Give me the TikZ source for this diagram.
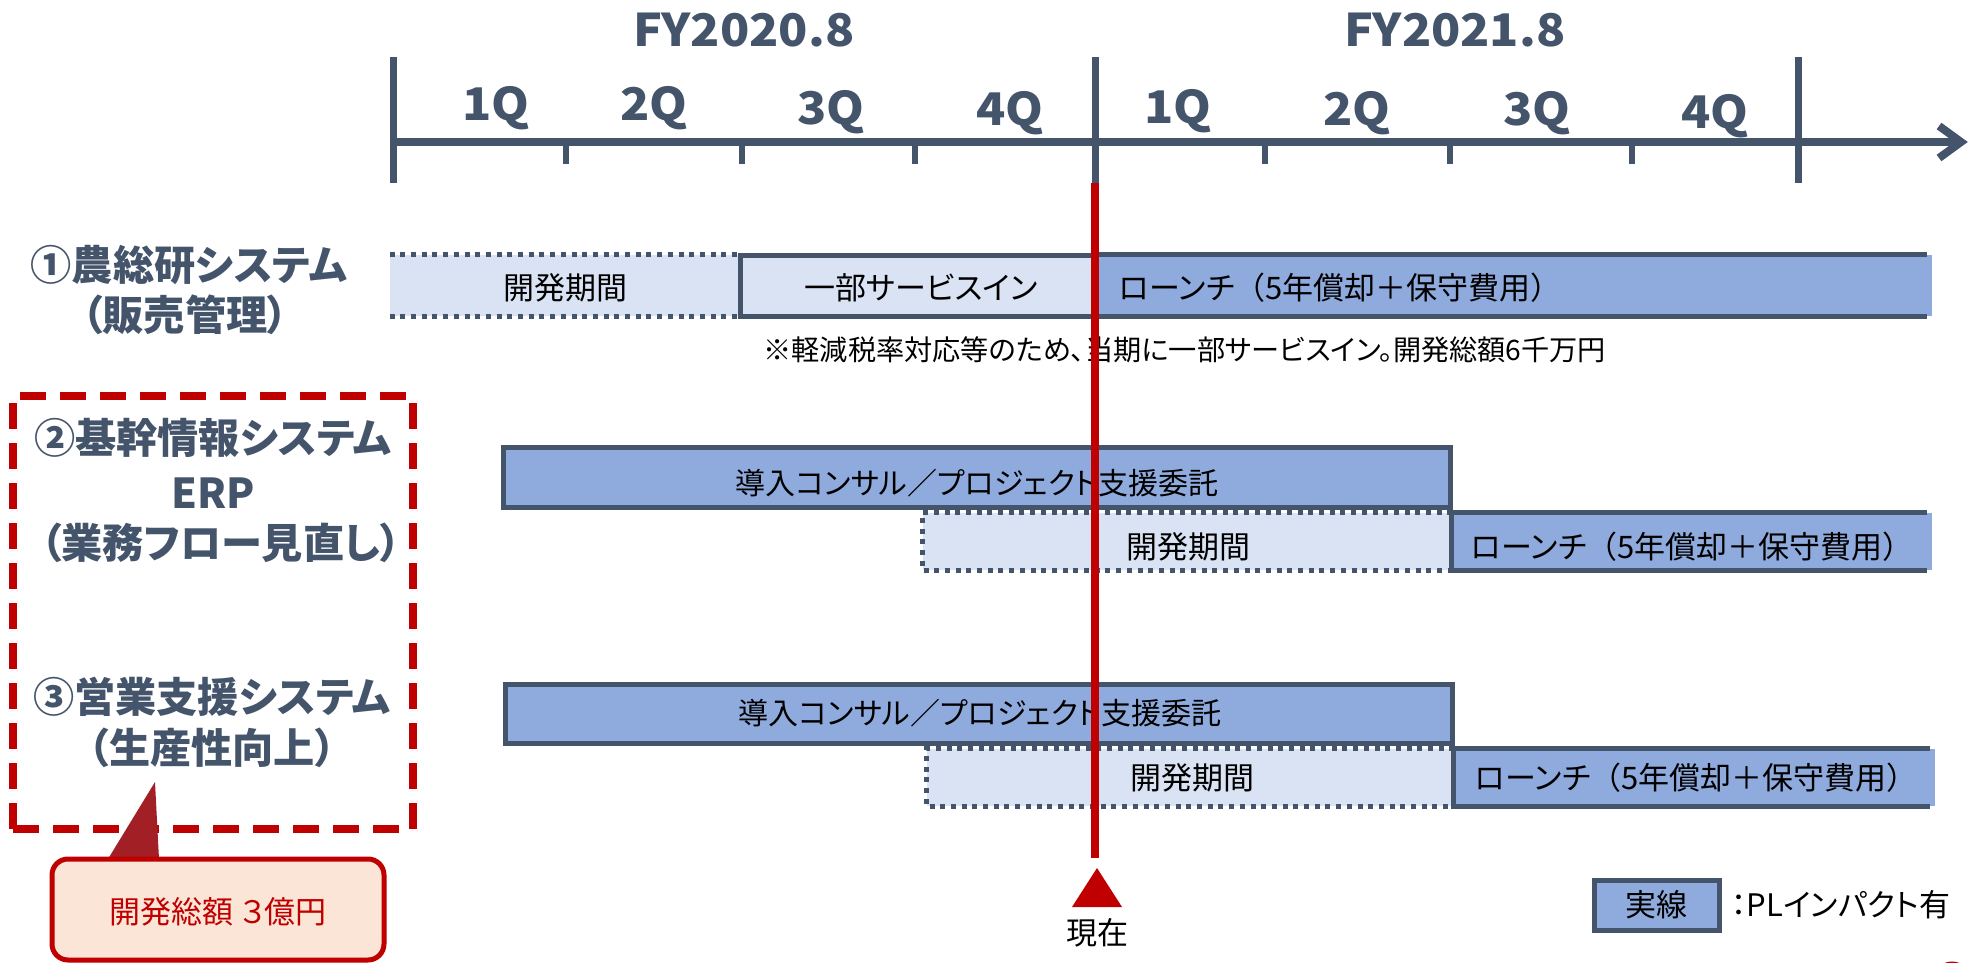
\documentclass[tikz,border=0pt]{standalone}
\usepackage{fontspec}
\setmainfont{Noto Sans CJK JP}[RawFeature=+palt]
\newfontfamily\jpfull{Noto Sans CJK JP}
\newfontfamily\axfont{Noto Sans CJK JP}[FakeStretch=1.07]
\usetikzlibrary{fit}
\definecolor{slate}{HTML}{44546A}
\definecolor{barblue}{HTML}{8FAADC}
\definecolor{barlight}{HTML}{DAE3F3}
\definecolor{nowred}{HTML}{C00000}
\definecolor{callfill}{HTML}{FBE5D6}
\definecolor{pointred}{HTML}{A31F26}
\newcommand\fwo{{\jpfull （}}
\newcommand\fwc{{\jpfull ）}}
\begin{document}
\begin{tikzpicture}[x=0.5pt,y=-0.5pt,
  axisline/.style={draw=slate, line width=4pt},
  majortick/.style={draw=slate, line width=3.5pt},
  minortick/.style={draw=slate, line width=3pt},
  axlabel/.style={text=slate, font=\axfont\bfseries\fontsize{22.5pt}{27pt}\selectfont, inner sep=0pt, anchor=base},
  rowlabel/.style={text=slate, font=\bfseries\fontsize{20.6pt}{25pt}\selectfont, inner sep=0pt},
  barsolid/.style={fill=barblue, inner sep=0pt},
  barlightbox/.style={fill=barlight, inner sep=0pt},
  boxedge/.style={draw=slate, line width=2.5pt},
  solidedge/.style={draw=slate, line width=2.5pt},
  dotedge/.style={draw=slate, line width=2.5pt, dash pattern=on 2.5pt off 2.85pt},
  bartext/.style={font=\fontsize{15.5pt}{18pt}\selectfont, inner sep=0pt, text=black},
  constext/.style={font=\fontsize{15pt}{18pt}\selectfont, inner sep=0pt, text=black},
  notetext/.style={font=\fontsize{14.1pt}{17pt}\selectfont, inner sep=0pt, text=black},
  nowline/.style={draw=nowred, line width=4pt},
  focusbox/.style={draw=nowred, line width=4pt, dash pattern=on 13pt off 7pt, inner sep=0pt},
  calloutbox/.style={fill=callfill, draw=nowred, line width=2.5pt, rounded corners=8pt, inner sep=0pt},
  callouttext/.style={font=\fontsize{15.5pt}{18pt}\selectfont, text=nowred, inner sep=0pt}
]
\useasboundingbox (0,0) rectangle (1970,963);
\clip (0,0) rectangle (1970,963);

% ---------- time axis ----------
\coordinate (axL) at (393,142);
\coordinate (axTip) at (1961,142);
\coordinate (wingA) at (1939,126);
\coordinate (wingB) at (1939,158);
\draw[axisline] (axL) -- (axTip);
\draw[axisline, line join=miter] (wingA) -- (axTip) -- (wingB);

\coordinate (maj0t) at (393,57);  \coordinate (maj0b) at (393,183);
\coordinate (maj1t) at (1095,57); \coordinate (maj1b) at (1095,183);
\coordinate (maj2t) at (1798,57); \coordinate (maj2b) at (1798,183);
\draw[majortick] (maj0t) -- (maj0b);
\draw[majortick] (maj1t) -- (maj1b);
\draw[majortick] (maj2t) -- (maj2b);

\foreach \x [count=\i] in {566,742,915,1265,1450,1632}{
  \coordinate (mt\i) at (\x,142);
  \coordinate (mb\i) at (\x,164);
  \draw[minortick] (mt\i) -- (mb\i);
}

\node[axlabel] (fy20) at (744,47) {FY2020.8};
\node[axlabel] (fy21) at (1455,47) {FY2021.8};
\node[axlabel] (q1a) at (496,120) {1Q};
\node[axlabel] (q2a) at (654,120) {2Q};
\node[axlabel] (q3a) at (831,125) {3Q};
\node[axlabel] (q4a) at (1010,126) {4Q};
\node[axlabel] (q1b) at (1178,124) {1Q};
\node[axlabel] (q2b) at (1357,126) {2Q};
\node[axlabel] (q3b) at (1537,126) {3Q};
\node[axlabel] (q4b) at (1715,128) {4Q};

% ---------- row labels ----------
\node[rowlabel] (r1a) at (189,265) {①農総研システム};
\node[rowlabel] (r1b) at (185,315) {（販売管理）};
\node[rowlabel] (r2a) at (213,438) {②基幹情報システム};
\node[rowlabel] (r2b) at (213,493) {ERP};
\node[rowlabel] (r2c) at (221,543) {（業務フロー見直し）};
\node[rowlabel] (r3a) at (212,697) {③営業支援システム};
\node[rowlabel] (r3b) at (212,748) {（生産性向上）};

% ---------- row 1 ----------
\node[barlightbox, fit={(390,255) (740,316)}] (dev1) {};
\draw[dotedge] (dev1.north west) -- (dev1.north east);
\draw[dotedge] (dev1.south west) -- (dev1.south east);
\node[barsolid, fit={(1095,255) (1932,316)}] (launch1) {};
\draw[solidedge] ([xshift=-2.5pt]launch1.north east) -- (launch1.north west) -- (launch1.south west) -- ([xshift=-2.5pt]launch1.south east);
\node[barlightbox, boxedge, fit={(740,255) (1095,316)}] (svc1) {};
\node[bartext] (dev1t) at (565,288) {開発期間};
\node[bartext] (svc1t) at (921,288) {一部サービスイン};
\node[bartext, anchor=west] (launch1t) at (1119,288) {ローンチ\fwo 5年償却＋保守費用\fwc};
\node[notetext, anchor=west] (note1) at (763,350) {※軽減税率対応等のため、当期に一部サービスイン。開発総額6千万円};

% ---------- row 2 ----------
\node[barsolid, boxedge, fit={(503,447) (1450,507)}] (cons2) {};
\node[barlightbox, fit={(923,513) (1452,570)}] (dev2) {};
\draw[dotedge] (dev2.north east) -- (dev2.north west) -- (dev2.south west) -- (dev2.south east);
\node[barsolid, fit={(1452,513) (1932,570)}] (launch2) {};
\draw[solidedge] ([xshift=-2.5pt]launch2.north east) -- (launch2.north west) -- (launch2.south west) -- ([xshift=-2.5pt]launch2.south east);
\node[constext] (cons2t) at (977,483) {導入コンサル／プロジェクト支援委託};
\node[bartext] (dev2t) at (1188,547) {開発期間};
\node[bartext, anchor=west] (launch2t) at (1471,547) {ローンチ\fwo 5年償却＋保守費用\fwc};

% ---------- row 3 ----------
\node[barsolid, boxedge, fit={(505,684) (1452,743)}] (cons3) {};
\node[barlightbox, fit={(927,749) (1454,806)}] (dev3) {};
\draw[dotedge] (dev3.north east) -- (dev3.north west) -- (dev3.south west) -- (dev3.south east);
\node[barsolid, fit={(1454,749) (1935,806)}] (launch3) {};
\draw[solidedge] ([xshift=-2.5pt]launch3.north east) -- (launch3.north west) -- (launch3.south west) -- ([xshift=-2.5pt]launch3.south east);
\node[constext] (cons3t) at (980,713) {導入コンサル／プロジェクト支援委託};
\node[bartext] (dev3t) at (1192,778) {開発期間};
\node[bartext, anchor=west] (launch3t) at (1475,778) {ローンチ\fwo 5年償却＋保守費用\fwc};

% ---------- now marker ----------
\coordinate (nowtop) at (1095,183);
\coordinate (nowbot) at (1095,858);
\draw[nowline] (nowtop) -- (nowbot);
\coordinate (triA) at (1097,868);
\coordinate (triB) at (1122,907);
\coordinate (triC) at (1072,907);
\fill[nowred] (triA) -- (triB) -- (triC) -- cycle;
\node[bartext] (nowt) at (1097,933) {現在};

% ---------- legend ----------
\node[barsolid, boxedge, fit={(1594,880) (1719,930)}] (legend) {};
\node[bartext] (legendt) at (1656,905) {実線};
\node[bartext, anchor=west] (legendd) at (1731,905) {：PLインパクト有};

% ---------- focus box and callout ----------
\node[focusbox, fit={(13,396) (413,829)}] (focus) {};
\coordinate (ptA) at (108,859);
\coordinate (ptB) at (155,782);
\coordinate (ptC) at (159,859);
\fill[pointred] (ptA) -- (ptB) -- (ptC) -- cycle;
\node[calloutbox, fit={(52,859) (384,960)}] (callout) {};
\node[callouttext] (calloutt) at (218,912) {開発総額 ３億円};

% ---------- page mark at corner ----------
\coordinate (pgc) at (1952,981);
\draw[nowred, line width=1.5pt] (pgc) circle (18);
\end{tikzpicture}
\end{document}
